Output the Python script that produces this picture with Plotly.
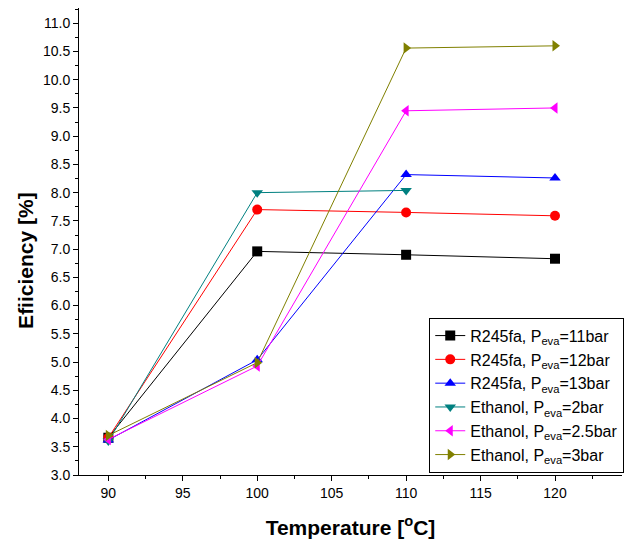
import plotly.graph_objects as go

temps = [90, 100, 110, 120]
temps_eth2 = [90, 100, 110]

r245_11 = [3.66, 6.96, 6.90, 6.83]
r245_12 = [3.66, 7.70, 7.65, 7.59]
r245_13 = [3.62, 5.04, 8.32, 8.26]
eth_2 = [3.60, 8.00, 8.04]
eth_25 = [3.63, 4.93, 9.45, 9.50]
eth_3 = [3.70, 4.99, 10.56, 10.60]

names = [
    "R245fa, P<sub>eva</sub>=11bar",
    "R245fa, P<sub>eva</sub>=12bar",
    "R245fa, P<sub>eva</sub>=13bar",
    "Ethanol, P<sub>eva</sub>=2bar",
    "Ethanol, P<sub>eva</sub>=2.5bar",
    "Ethanol, P<sub>eva</sub>=3bar",
]
colors = ["#000000", "#ff0000", "#0000ff", "#008080", "#ff00ff", "#808000"]
symbols = ["square", "circle", "triangle-up", "triangle-down", "triangle-left", "triangle-right"]
xs = [temps, temps, temps, temps_eth2, temps, temps]
ys = [r245_11, r245_12, r245_13, eth_2, eth_25, eth_3]

FONT = "Liberation Sans, Arial, sans-serif"

fig = go.Figure()
for x, y, n, c, s in zip(xs, ys, names, colors, symbols):
    fig.add_trace(go.Scatter(
        x=x, y=y, name=n, mode="lines+markers",
        line=dict(color=c, width=1),
        marker=dict(symbol=s, size=10, color=c),
    ))

fig.update_layout(
    width=624, height=548,
    margin=dict(l=79, r=2, t=8, b=73, autoexpand=False),
    paper_bgcolor="white", plot_bgcolor="white",
    font=dict(family=FONT, size=14, color="black"),
    legend=dict(
        x=0.645, y=0.005, xanchor="left", yanchor="bottom",
        bordercolor="black", borderwidth=1, bgcolor="white",
        font=dict(size=16), tracegroupgap=0,
    ),
    showlegend=True,
)
fig.add_annotation(
    text="<b>Efiiciency [%]</b>", xref="paper", yref="paper",
    x=-0.1, y=0.46, xanchor="center", yanchor="middle",
    textangle=-90, showarrow=False, font=dict(size=21),
)
fig.update_xaxes(
    range=[88.03, 124.5], tick0=90, dtick=5,
    showline=True, linecolor="black", linewidth=1,
    ticks="outside", ticklen=5, tickcolor="black",
    minor=dict(dtick=2.5, ticks="outside", ticklen=3, tickcolor="black"),
    showgrid=False, zeroline=False,
    title=dict(text="<b>Temperature [<sup>o</sup>C]</b>", font=dict(size=21), standoff=20),
)
fig.update_yaxes(
    range=[3.0, 11.27], tick0=3, dtick=0.5, tickformat=".1f",
    showline=True, linecolor="black", linewidth=1,
    ticks="outside", ticklen=5, tickcolor="black",
    minor=dict(dtick=0.25, ticks="outside", ticklen=3, tickcolor="black"),
    showgrid=False, zeroline=False,
)

fig.write_html("out.html")
